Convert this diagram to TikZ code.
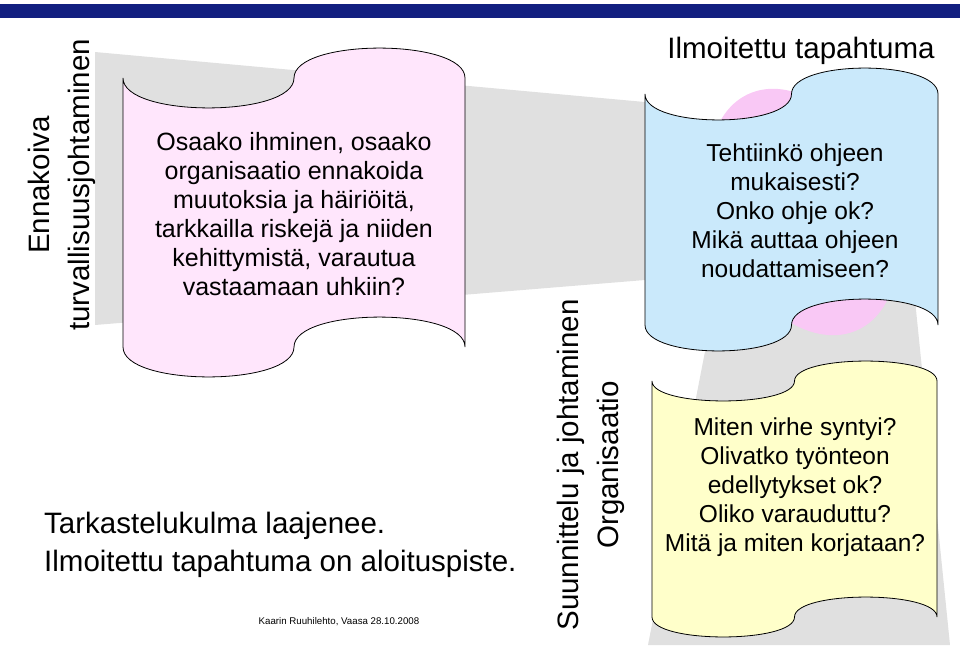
\documentclass[tikz,border=0pt]{standalone}
\usepackage{fontspec}
\setmainfont{Liberation Sans}
\definecolor{barblue}{RGB}{18,31,128}
\definecolor{tapepink}{RGB}{255,230,252}
\definecolor{tapeblue}{RGB}{202,233,251}
\definecolor{tapeyellow}{RGB}{255,255,202}
\definecolor{wedgegray}{RGB}{224,224,224}
\definecolor{blobpink}{RGB}{249,200,245}
% punched tape: fill, x0, x1, top, bottom, wave depth
\newcommand\tape[6]{
  \filldraw [fill=#1, draw=black, line width=0.8pt]
    (#2,#4) .. controls (#2,{#4+1.33*#6}) and ({(#2+#3)/2},{#4+1.33*#6}) .. ({(#2+#3)/2},#4)
    .. controls ({(#2+#3)/2},{#4-1.33*#6}) and (#3,{#4-1.33*#6}) .. (#3,#4)
    -- (#3,#5) .. controls (#3,{#5-1.33*#6}) and ({(#2+#3)/2},{#5-1.33*#6}) .. ({(#2+#3)/2},#5)
    .. controls ({(#2+#3)/2},{#5+1.33*#6}) and (#2,{#5+1.33*#6}) .. (#2,#5) -- cycle;
}
\begin{document}
\begin{tikzpicture}[x=1pt,y=-1pt]
  \tikzstyle{every node}+=[inner sep=0pt, align=center]
  \useasboundingbox (0,0) rectangle (960,645);
  \fill [barblue] (0,4) rectangle (960,18);
  % background wedges
  \fill [wedgegray] (95,52) -- (645,102) -- (645,280) -- (95,325) -- cycle;
  \fill [wedgegray] (715,300) -- (915,300) -- (950,645) -- (648,645) -- cycle;
  \fill [blobpink] (803,212) ellipse [x radius=85, y radius=130, rotate=25];
  % tapes
  \tape{tapepink}{123}{465}{78}{347}{30}
  \tape{tapeblue}{645}{938}{94}{325}{26}
  \tape{tapeyellow}{652}{937}{381}{617}{20}
  % texts
  \node (ennakoiva) [rotate=90, font=\fontsize{29.5}{40}\selectfont] at (62,185) {Ennakoiva\\turvallisuusjohtaminen};
  \node (suunnittelu) [rotate=90, font=\fontsize{29.5}{40}\selectfont] at (591,465) {Suunnittelu ja johtaminen\\Organisaatio};
  \node (kysymys) [font=\fontsize{25}{29}\selectfont] at (294,214) {Osaako ihminen, osaako\\organisaatio ennakoida\\muutoksia ja häiriöitä,\\tarkkailla riskejä ja niiden\\kehittymistä, varautua\\vastaamaan uhkiin?};
  \node (ilmoitettu) [font=\fontsize{29.5}{34}\selectfont] at (801,51) {Ilmoitettu tapahtuma};
  \node (ohje) [font=\fontsize{24.5}{29}\selectfont] at (795,211) {Tehtiinkö ohjeen\\mukaisesti?\\Onko ohje ok?\\Mikä auttaa ohjeen\\noudattamiseen?};
  \node (virhe) [font=\fontsize{24.5}{29}\selectfont] at (795,487) {Miten virhe syntyi?\\Olivatko työnteon\\edellytykset ok?\\Oliko varauduttu?\\Mitä ja miten korjataan?};
  \node (laajenee) [anchor=north west, align=left, font=\fontsize{29.5}{38}\selectfont] at (44,512) {Tarkastelukulma laajenee.\\Ilmoitettu tapahtuma on aloituspiste.};
  \node (tekija) [font=\fontsize{9.7}{11}\selectfont] at (339,622) {Kaarin Ruuhilehto, Vaasa 28.10.2008};
\end{tikzpicture}
\end{document}
